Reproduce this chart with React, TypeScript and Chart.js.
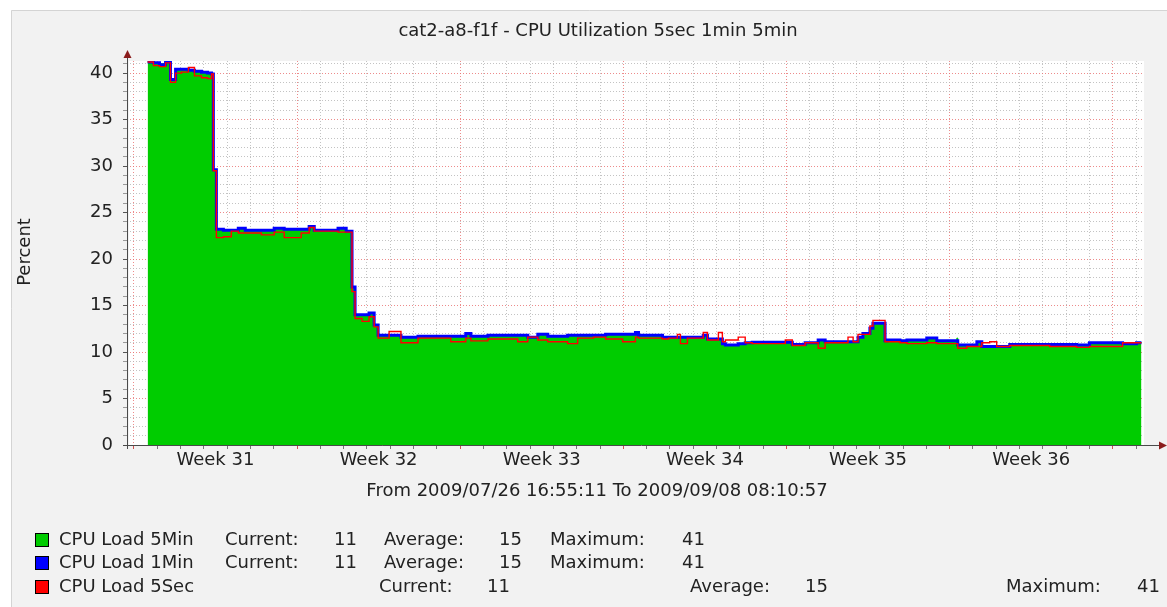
import React, { useEffect, useRef } from 'react';
import { Chart, registerables } from 'chart.js';

Chart.register(...registerables);

const titleText = 'cat2-a8-f1f - CPU Utilization 5sec 1min 5min';
const yAxisTitle = 'Percent';
const rangeText = 'From 2009/07/26 16:55:11 To 2009/09/08 08:10:57';
const weekLabels = ['Week 31', 'Week 32', 'Week 33', 'Week 34', 'Week 35', 'Week 36'];

// days since Monday 2009/07/27 00:00 (start of Week 31)
const days = [
  0.59, 0.84, 1.10, 1.36, 1.57, 1.79, 2.04, 2.34, 2.60, 2.90,
  3.16, 3.33, 3.41, 3.54, 3.84, 4.18, 4.48, 4.78, 5.12, 5.47,
  6.02, 6.45, 6.88, 7.18, 7.52, 7.74, 8.25, 8.76, 9.11, 9.36,
  9.49, 9.79, 10.09, 10.31, 10.48, 10.95, 11.46, 12.19, 13.60, 14.24,
  14.46, 15.19, 16.47, 16.90, 17.33, 17.76, 18.61, 19.04, 19.72, 20.24,
  20.97, 21.52, 21.65, 22.68, 22.94, 23.32, 23.45, 23.75, 24.43, 24.61,
  25.08, 25.25, 25.38, 25.93, 26.23, 26.53, 27.95, 28.25, 28.80, 29.36,
  29.66, 30.64, 30.86, 31.07, 31.28, 31.58, 31.71, 32.23, 32.31, 32.87,
  33.17, 34.02, 34.45, 35.31, 35.35, 35.74, 36.17, 36.38, 36.72, 37.02,
  37.58, 39.29, 40.45, 41.00, 41.56, 42.42, 43.02, 43.23,
];

const load5Min = [
  41.3, 41.0, 41.0, 41.2, 39.2, 40.4, 40.4, 40.3, 40.2, 40.1,
  40.0, 39.9, 29.6, 23.2, 23.1, 23.1, 23.3, 23.1, 23.1, 23.1,
  23.3, 23.2, 23.2, 23.2, 23.5, 23.1, 23.1, 23.3, 23.0, 17.0,
  14.0, 14.0, 14.2, 12.9, 11.8, 11.8, 11.6, 11.7, 11.7, 12.0,
  11.7, 11.8, 11.8, 11.6, 12.0, 11.7, 11.8, 11.8, 11.8, 11.9,
  11.9, 12.1, 11.8, 11.6, 11.6, 11.6, 11.6, 11.6, 11.8, 11.4,
  11.4, 10.9, 10.75, 10.9, 11.0, 11.05, 11.05, 10.8, 11.0, 11.3,
  11.1, 11.1, 11.1, 11.6, 12.0, 12.55, 13.1, 11.2, 11.3, 11.2,
  11.3, 11.5, 11.2, 11.5, 10.75, 10.75, 11.1, 10.6, 10.6, 10.6,
  10.8, 10.8, 10.75, 11.0, 11.0, 10.9, 11.0, 11.0,
];

const load1Min = [
  41.2, 41.1, 40.9, 41.2, 39.3, 40.4, 40.4, 40.3, 40.2, 40.1,
  40.0, 39.9, 29.6, 23.2, 23.1, 23.1, 23.3, 23.1, 23.1, 23.1,
  23.3, 23.2, 23.2, 23.2, 23.5, 23.1, 23.1, 23.3, 23.0, 17.0,
  14.0, 14.0, 14.2, 12.9, 11.8, 11.8, 11.6, 11.7, 11.7, 12.0,
  11.7, 11.8, 11.8, 11.6, 11.9, 11.7, 11.8, 11.8, 11.8, 11.9,
  11.9, 12.1, 11.8, 11.6, 11.6, 11.6, 11.6, 11.6, 11.8, 11.4,
  11.4, 10.9, 10.75, 10.9, 11.0, 11.05, 11.05, 10.8, 11.0, 11.3,
  11.1, 11.1, 11.1, 11.6, 12.0, 12.55, 13.1, 11.2, 11.3, 11.2,
  11.3, 11.5, 11.2, 11.2, 10.75, 10.75, 11.1, 10.6, 10.6, 10.6,
  10.8, 10.8, 10.75, 11.0, 11.0, 10.9, 11.0, 11.0,
];

const load5Sec = [
  41.2, 40.8, 40.7, 41.1, 39.0, 40.0, 40.1, 40.6, 39.7, 39.5,
  39.4, 39.9, 29.5, 22.3, 22.4, 23.0, 22.8, 22.8, 22.8, 22.6,
  22.9, 22.3, 22.3, 22.8, 23.4, 23.0, 23.0, 22.9, 22.9, 16.5,
  13.6, 13.3, 13.8, 12.7, 11.5, 12.2, 11.0, 11.5, 11.1, 11.5,
  11.2, 11.4, 11.1, 11.6, 11.3, 11.1, 10.9, 11.5, 11.6, 11.4,
  11.1, 11.6, 11.5, 11.4, 11.5, 11.9, 10.9, 11.5, 12.1, 11.3,
  12.1, 11.1, 11.3, 11.6, 11.0, 10.9, 11.3, 10.7, 11.0, 10.4,
  11.0, 11.6, 11.1, 11.9, 11.9, 12.8, 13.4, 11.1, 11.1, 11.0,
  10.9, 11.0, 10.9, 10.9, 10.4, 10.6, 10.6, 11.0, 11.1, 10.6,
  10.7, 10.6, 10.5, 10.6, 10.6, 11.0, 11.0, 11.0,
];

const seriesNames = ['CPU Load 5Min', 'CPU Load 1Min', 'CPU Load 5Sec'];
const currentValues = [11, 11, 11];
const averageValues = [15, 15, 15];
const maximumValues = [41, 41, 41];

const X_MIN = -0.295; // 2009/07/26 16:55:11
const X_MAX = 43.34; // 2009/09/08 08:10:57
const Y_MAX = 41.3;

export default function App() {
  const ref = useRef<HTMLCanvasElement>(null);

  useEffect(() => {
    const canvas = ref.current;
    if (!canvas) return;
    const FONT = '"DejaVu Sans", "Liberation Sans", sans-serif';
    const FS = 18;
    const colors = ['#00cc00', '#0000ff', '#ff0000'];
    const major = 'rgba(232, 110, 110, 0.8)';
    const minor = 'rgba(185, 185, 185, 0.85)';
    const isInt = (v: number) => Math.abs(v - Math.round(v)) < 1e-6;
    const pts = (vals: number[]) => days.map((d, i) => ({ x: d, y: vals[i] }));

    const decor = {
      id: 'decor',
      beforeDraw(chart: any) {
        const { ctx, width, height, chartArea: a } = chart;
        ctx.save();
        ctx.fillStyle = '#ffffff';
        ctx.fillRect(0, 0, width, height);
        ctx.fillStyle = '#f2f2f2';
        ctx.fillRect(11, 10, width - 11, height - 10);
        ctx.strokeStyle = '#d4d4d4';
        ctx.lineWidth = 1;
        ctx.beginPath();
        ctx.moveTo(11.5, height);
        ctx.lineTo(11.5, 10.5);
        ctx.lineTo(width, 10.5);
        ctx.stroke();
        ctx.fillStyle = '#ffffff';
        ctx.fillRect(a.left + 2, a.top, a.right - a.left - 2, a.bottom - a.top);
        ctx.restore();
      },
      afterDraw(chart: any) {
        const { ctx, chartArea: a } = chart;
        ctx.save();
        // axes
        const axisColor = '#4a4a4a';
        const arrowColor = '#8b1c1c';
        ctx.strokeStyle = axisColor;
        ctx.lineWidth = 1;
        ctx.beginPath();
        ctx.moveTo(a.left + 0.5, a.bottom + 4);
        ctx.lineTo(a.left + 0.5, a.top - 4);
        ctx.moveTo(a.left - 4, a.bottom + 0.5);
        ctx.lineTo(1160, a.bottom + 0.5);
        ctx.stroke();
        ctx.fillStyle = arrowColor;
        ctx.beginPath();
        ctx.moveTo(a.left + 0.5, a.top - 11);
        ctx.lineTo(a.left - 3.5, a.top - 3);
        ctx.lineTo(a.left + 4.5, a.top - 3);
        ctx.closePath();
        ctx.fill();
        ctx.beginPath();
        ctx.moveTo(1167, a.bottom + 0.5);
        ctx.lineTo(1159, a.bottom - 3.5);
        ctx.lineTo(1159, a.bottom + 4.5);
        ctx.closePath();
        ctx.fill();

        // texts
        ctx.fillStyle = '#222222';
        ctx.font = `${FS}px ${FONT}`;
        ctx.textBaseline = 'middle';
        ctx.textAlign = 'center';
        ctx.fillText(titleText, 598, 31);
        ctx.fillText(rangeText, 597, 491);
        ctx.save();
        ctx.translate(25, 252);
        ctx.rotate(-Math.PI / 2);
        ctx.fillText(yAxisTitle, 0, 0);
        ctx.restore();

        // legend
        const rowY = [540, 563, 587];
        const layouts = [
          [225, 357, 384, 522, 550, 705],
          [225, 357, 384, 522, 550, 705],
          [379, 510, 690, 828, 1006, 1160],
        ];
        for (let i = 0; i < 3; i++) {
          const y = rowY[i];
          ctx.fillStyle = colors[i];
          ctx.fillRect(35, y - 7, 14, 14);
          ctx.strokeStyle = '#000';
          ctx.lineWidth = 1;
          ctx.strokeRect(35.5, y - 6.5, 13, 13);
          ctx.fillStyle = '#222222';
          ctx.textAlign = 'left';
          ctx.fillText(seriesNames[i], 59, y);
          const L = layouts[i];
          ctx.fillText('Current:', L[0], y);
          ctx.fillText('Average:', L[2], y);
          ctx.fillText('Maximum:', L[4], y);
          ctx.textAlign = 'right';
          ctx.fillText(String(currentValues[i]), L[1], y);
          ctx.fillText(String(averageValues[i]), L[3], y);
          ctx.fillText(String(maximumValues[i]), L[5], y);
        }
        ctx.restore();
      },
    };

    const chart = new Chart(canvas, {
      type: 'line',
      data: {
        datasets: [
          {
            label: seriesNames[0],
            data: pts(load5Min),
            stepped: true,
            borderColor: colors[0],
            backgroundColor: colors[0],
            borderWidth: 1,
            fill: 'origin',
            pointRadius: 0,
            order: 3,
          },
          {
            label: seriesNames[1],
            data: pts(load1Min),
            stepped: true,
            borderColor: colors[1],
            borderWidth: 3,
            fill: false,
            pointRadius: 0,
            order: 2,
          },
          {
            label: seriesNames[2],
            data: pts(load5Sec),
            stepped: true,
            borderColor: colors[2],
            borderWidth: 1.4,
            fill: false,
            pointRadius: 0,
            order: 1,
          },
        ],
      },
      options: {
        animation: false,
        responsive: false,
        maintainAspectRatio: false,
        layout: { padding: { left: 0, right: 23, top: 61, bottom: 0 } },
        plugins: {
          legend: { display: false },
          title: { display: false },
          tooltip: { enabled: false },
        },
        scales: {
          x: {
            type: 'linear',
            min: X_MIN,
            max: X_MAX,
            afterBuildTicks: (scale: any) => {
              const t = [];
              for (let v = 0; v <= 43; v += 0.5) t.push({ value: v });
              scale.ticks = t;
            },
            afterFit: (scale: any) => {
              scale.height = 162;
            },
            ticks: {
              autoSkip: false,
              maxRotation: 0,
              minRotation: 0,
              padding: 1,
              color: '#222222',
              font: { family: FONT, size: FS },
              callback: (v: any) => {
                const k = (Number(v) - 3.5) / 7;
                if (isInt(k)) {
                  const idx = Math.round(k);
                  return weekLabels[idx] ?? '';
                }
                return '';
              },
            },
            grid: {
              lineWidth: 1,
              drawTicks: true,
              tickLength: 4,
              color: (c: any) => {
                const v = c.tick ? c.tick.value : 0;
                if (!isInt(v)) return 'rgba(0,0,0,0)';
                return Math.round(v) % 7 === 0 ? major : minor;
              },
              tickColor: (c: any) => {
                const v = c.tick ? c.tick.value : 0;
                if (!isInt(v)) return 'rgba(0,0,0,0)';
                return Math.round(v) % 7 === 0 ? '#d05050' : '#777777';
              },
            },
            border: { display: false, dash: [1, 2] },
          },
          y: {
            type: 'linear',
            min: 0,
            max: Y_MAX,
            afterBuildTicks: (scale: any) => {
              const t = [];
              for (let v = 0; v <= 41; v += 1) t.push({ value: v });
              scale.ticks = t;
            },
            afterFit: (scale: any) => {
              scale.width = 127;
            },
            ticks: {
              autoSkip: false,
              padding: 10,
              color: '#222222',
              font: { family: FONT, size: FS },
              callback: (v: any) => (Number(v) % 5 === 0 ? String(v) : ''),
            },
            grid: {
              lineWidth: 1,
              drawTicks: true,
              tickLength: 4,
              color: (c: any) => {
                const v = c.tick ? c.tick.value : 0;
                return v % 5 === 0 ? major : minor;
              },
              tickColor: (c: any) => {
                const v = c.tick ? c.tick.value : 0;
                return v % 5 === 0 ? '#555555' : '#999999';
              },
            },
            border: { display: false, dash: [1, 2] },
          },
        },
      },
      plugins: [decor],
    } as any);

    return () => chart.destroy();
  }, []);

  return (
    <div style={{ position: 'fixed', left: 0, top: 0, width: 1167, height: 607 }}>
      <canvas ref={ref} width={1167} height={607} style={{ display: 'block', width: 1167, height: 607 }} />
    </div>
  );
}
